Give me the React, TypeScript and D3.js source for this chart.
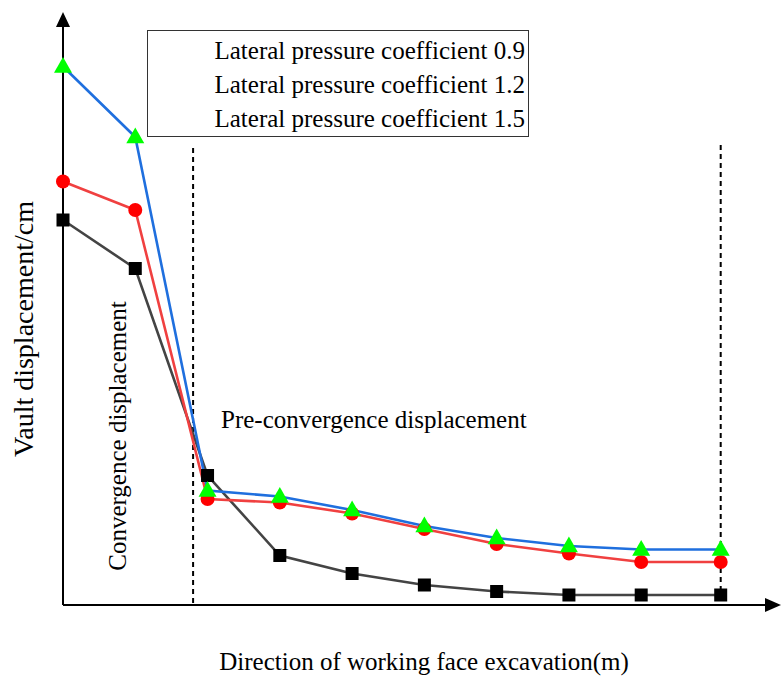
import React from "react";
import * as d3 from "d3";

// Positions along the excavation direction (stations)
const stations = [0, 1, 2, 3, 4, 5, 6, 7, 8, 9.1];

// Vault displacement for each lateral pressure coefficient
const coef09 = [77, 67.3, 25.9, 9.9, 6.3, 4, 2.7, 2, 2, 2];
const coef12 = [84.7, 79, 21.2, 20.5, 18.3, 15.2, 12.2, 10.3, 8.6, 8.6];
const coef15 = [107.7, 93.6, 22.9, 21.7, 19, 15.8, 13.4, 11.8, 11.1, 11.1];

const legendLabels = [
  "Lateral pressure coefficient 0.9",
  "Lateral pressure coefficient 1.2",
  "Lateral pressure coefficient 1.5",
];

// Stage boundaries (dashed separators)
const stageBounds = [1.8, 9.1];

const W = 781;
const H = 678;
const FONT = "'Liberation Serif', 'Times New Roman', serif";

export default function App() {
  const x = d3.scaleLinear().domain([0, 9.1]).range([63, 720.7]);
  const y = d3.scaleLinear().domain([0, 118]).range([605, 15]);
  const line = d3
    .line<number>()
    .x((_, i) => x(stations[i]))
    .y((d) => y(d));

  const axisY = y(0);
  const triangle = d3.symbol().type(d3.symbolTriangle).size(140)() as string;

  return (
    <svg
      width={W}
      height={H}
      style={{ position: "absolute", left: 0, top: 0, background: "#fff" }}
      fontFamily={FONT}
    >
      {/* axes with arrow heads */}
      <line x1={x(0)} y1={axisY} x2={770} y2={axisY} stroke="#000" strokeWidth={2} />
      <path d={`M781,${axisY} L765,${axisY - 7} L765,${axisY + 7} Z`} fill="#000" />
      <line x1={x(0)} y1={axisY} x2={x(0)} y2={22} stroke="#000" strokeWidth={2} />
      <path d={`M${x(0)},12 L${x(0) - 7},27 L${x(0) + 7},27 Z`} fill="#000" />

      {/* stage separators */}
      <line
        x1={x(stageBounds[0])}
        x2={x(stageBounds[0])}
        y1={148}
        y2={axisY}
        stroke="#000"
        strokeWidth={2}
        strokeDasharray="5,4"
      />
      <line
        x1={x(stageBounds[1])}
        x2={x(stageBounds[1])}
        y1={145}
        y2={y(coef09[9])}
        stroke="#000"
        strokeWidth={2}
        strokeDasharray="5,4"
      />

      {/* series lines */}
      <path d={line(coef09) as string} fill="none" stroke="#444444" strokeWidth={2.6} />
      <path d={line(coef12) as string} fill="none" stroke="#f04040" strokeWidth={2.6} />
      <path d={line(coef15) as string} fill="none" stroke="#1f6fde" strokeWidth={2.6} />

      {/* markers */}
      {coef09.map((v, i) => (
        <rect key={`s${i}`} x={x(stations[i]) - 6.5} y={y(v) - 6.5} width={13} height={13} fill="#000" />
      ))}
      {coef12.map((v, i) => (
        <circle key={`c${i}`} cx={x(stations[i])} cy={y(v)} r={7} fill="#ff0000" />
      ))}
      {coef15.map((v, i) => (
        <path
          key={`t${i}`}
          d={triangle}
          transform={`translate(${x(stations[i])},${y(v) + 1})`}
          fill="#00ff00"
        />
      ))}

      {/* legend */}
      <rect x={147.5} y={30.5} width={381} height={106} fill="#fff" stroke="#333" strokeWidth={1} />
      {legendLabels.map((t, i) => (
        <text key={t} x={525} y={59 + i * 34} textAnchor="end" fontSize={25} fill="#000">
          {t}
        </text>
      ))}

      {/* annotations */}
      <text x={221} y={428} fontSize={25} fill="#000">
        Pre-convergence displacement
      </text>
      <text
        transform="translate(126,436) rotate(-90)"
        textAnchor="middle"
        fontSize={25}
        fill="#000"
      >
        Convergence displacement
      </text>

      {/* axis titles */}
      <text
        transform="translate(33,329) rotate(-90)"
        textAnchor="middle"
        fontSize={28}
        fill="#000"
      >
        Vault displacement/cm
      </text>
      <text x={424} y={670} textAnchor="middle" fontSize={25} fill="#000">
        Direction of working face excavation(m)
      </text>
    </svg>
  );
}
